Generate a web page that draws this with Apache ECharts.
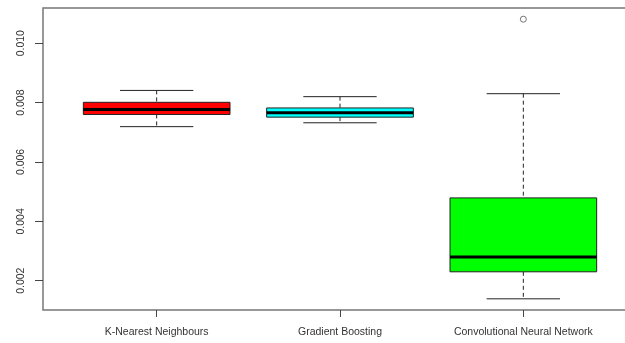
<!DOCTYPE html>
<html>
<head>
<meta charset="utf-8">
<script src="https://cdn.jsdelivr.net/npm/echarts@6/dist/echarts.min.js"></script>
<style>
  html, body { margin: 0; padding: 0; background: #fff; }
  #chart { width: 625px; height: 343px; }
</style>
</head>
<body>
<div id="chart"></div>
<script>
// Model names along the x axis
const categories = ['K-Nearest Neighbours', 'Gradient Boosting', 'Convolutional Neural Network'];
// Five-number summaries per model
const lowerWhisker = [0.00719, 0.00732, 0.00139];
const q1 = [0.00760, 0.00751, 0.00230];
const median = [0.00777, 0.00766, 0.00280];
const q3 = [0.00801, 0.00782, 0.00479];
const upperWhisker = [0.00841, 0.00820, 0.00830];
// Outliers as [model index, value]
const outliers = [[2, 0.01081]];
// Box fill colours
const boxColors = ['#ff0000', '#00ffff', '#00ff00'];
// Y tick values
const yTicks = [0.002, 0.004, 0.006, 0.008, 0.010];

// Positions on the numeric x scale: model i sits at i + 1
const xPos = categories.map((_, i) => i + 1);

// Axis extent padded by 4% of the data range
const allVals = lowerWhisker.concat(upperWhisker, outliers.map(o => o[1]));
const dMin = Math.min(...allVals), dMax = Math.max(...allVals);
const pad = 0.04 * (dMax - dMin);

const boxData = categories.map((_, i) => [xPos[i], lowerWhisker[i], q1[i], median[i], q3[i], upperWhisker[i], i]);

const BOX_HALF = 0.4;
const CAP_HALF = 0.2;

function renderBox(params, api) {
  const x = api.value(0);
  const lo = api.value(1), a = api.value(2), m = api.value(3), b = api.value(4), hi = api.value(5);
  const idx = api.value(6);
  const p = (xx, yy) => api.coord([xx, yy]);
  const c = p(x, m);
  const left = p(x - BOX_HALF, a)[0], right = p(x + BOX_HALF, a)[0];
  const capL = p(x - CAP_HALF, a)[0], capR = p(x + CAP_HALF, a)[0];
  const yLo = p(x, lo)[1], yA = p(x, a)[1], yM = c[1], yB = p(x, b)[1], yHi = p(x, hi)[1];
  const lineStyle = { stroke: '#222', lineWidth: 1 };
  const dashStyle = { stroke: '#222', lineWidth: 1, lineDash: [4, 3] };
  return {
    type: 'group',
    children: [
      { type: 'line', shape: { x1: c[0], y1: yHi, x2: c[0], y2: yB }, style: dashStyle },
      { type: 'line', shape: { x1: c[0], y1: yA, x2: c[0], y2: yLo }, style: dashStyle },
      { type: 'line', shape: { x1: capL, y1: yHi, x2: capR, y2: yHi }, style: lineStyle },
      { type: 'line', shape: { x1: capL, y1: yLo, x2: capR, y2: yLo }, style: lineStyle },
      { type: 'rect', shape: { x: left, y: yB, width: right - left, height: yA - yB },
        style: { fill: boxColors[idx], stroke: '#222', lineWidth: 1 } },
      { type: 'line', shape: { x1: left, y1: yM, x2: right, y2: yM }, style: { stroke: '#000', lineWidth: 3 } }
    ]
  };
}

const chart = echarts.init(document.getElementById('chart'), null, { renderer: 'canvas' });
chart.setOption({
  animation: false,
  backgroundColor: '#fff',
  grid: {
    left: 43, right: -12, top: 8, bottom: 33,
    outerBoundsMode: 'none',
    show: true, borderColor: '#777', borderWidth: 1.5, backgroundColor: 'transparent'
  },
  xAxis: {
    type: 'value',
    min: 0.38, max: 3.62,
    splitLine: { show: false },
    axisLine: { show: false },
    axisTick: { show: true, customValues: xPos, length: 7, lineStyle: { color: '#444' } },
    axisLabel: {
      customValues: xPos,
      margin: 17,
      fontFamily: 'Liberation Sans, Arial, sans-serif',
      fontSize: 10.5,
      color: '#333',
      formatter: v => categories[Math.round(v) - 1] || ''
    }
  },
  yAxis: {
    type: 'value',
    min: dMin - pad, max: dMax + pad,
    splitLine: { show: false },
    axisLine: { show: false },
    axisTick: { show: true, customValues: yTicks, length: 8, lineStyle: { color: '#444' } },
    axisLabel: {
      customValues: yTicks,
      rotate: 90,
      margin: 16,
      fontFamily: 'Liberation Sans, Arial, sans-serif',
      fontSize: 10.5,
      color: '#333',
      formatter: v => v.toFixed(3)
    }
  },
  series: [
    {
      type: 'custom',
      renderItem: renderBox,
      data: boxData,
      encode: { x: 0, y: [1, 2, 3, 4, 5] }
    },
    {
      type: 'scatter',
      data: outliers.map(o => [xPos[o[0]], o[1]]),
      symbol: 'circle',
      symbolSize: 6,
      itemStyle: { color: 'rgba(0,0,0,0)', borderColor: '#555', borderWidth: 1 }
    }
  ]
});
</script>
</body>
</html>
